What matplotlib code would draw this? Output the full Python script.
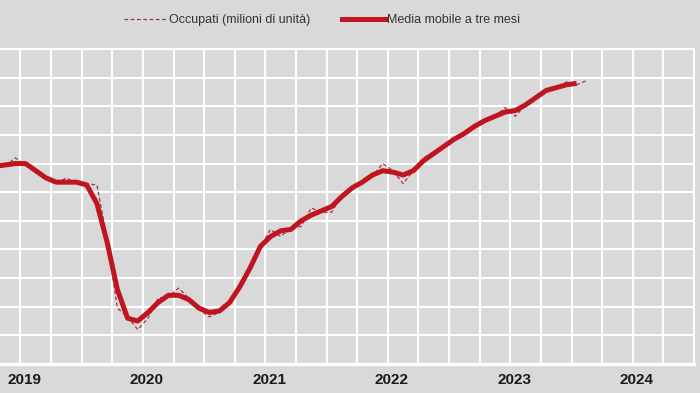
import numpy as np
import pandas as pd
import matplotlib
matplotlib.use('Agg')
import matplotlib.pyplot as plt
from matplotlib.lines import Line2D

# Monthly series, Apr 2019 - Feb 2024 (millions of employed)
months = pd.period_range('2019-04', '2024-02', freq='M')

occupati = [
    23.17, 23.18, 23.24, 23.19, 23.14, 23.09, 23.06, 23.10, 23.06,
    23.06, 23.05, 22.67, 22.19, 22.13, 22.04, 22.12, 22.26, 22.27, 22.33, 22.26, 22.18,
    22.13, 22.16, 22.23, 22.34, 22.47, 22.61, 22.74, 22.69, 22.75, 22.76, 22.89, 22.86,
    22.86, 22.98, 23.04, 23.06, 23.11, 23.20, 23.15, 23.06, 23.15, 23.24, 23.28, 23.32,
    23.37, 23.41, 23.46, 23.50, 23.53, 23.59, 23.53, 23.61, 23.67, 23.71, 23.73, 23.77,
    23.75, 23.78,
]

# 3-month moving average, Apr 2019 - Jan 2024
media_mobile = [
    23.18, 23.19, 23.20, 23.20, 23.15, 23.10, 23.07, 23.07, 23.07,
    23.05, 22.92, 22.65, 22.32, 22.12, 22.10, 22.16, 22.23, 22.28, 22.28, 22.25, 22.19,
    22.16, 22.17, 22.23, 22.34, 22.47, 22.62, 22.69, 22.73, 22.74, 22.80, 22.84, 22.87,
    22.90, 22.97, 23.03, 23.07, 23.12, 23.15, 23.14, 23.12, 23.15, 23.22, 23.27, 23.32,
    23.37, 23.41, 23.46, 23.50, 23.53, 23.56, 23.57, 23.61, 23.66, 23.71, 23.73, 23.75,
    23.76,
]

years = [2019, 2020, 2021, 2022, 2023, 2024]

BG = '#d9d9d9'
RED = '#c0141e'
DASH = '#a8303e'
FONT = ['Liberation Sans Narrow', 'Liberation Sans', 'DejaVu Sans']

# month position: months since Jan 2019, centred on mid-month
x = np.array([(p.year - 2019) * 12 + p.month - 1 + 0.5 for p in months])
x_ma = x[:len(media_mobile)]

fig = plt.figure(figsize=(7, 3.93), dpi=100, facecolor=BG)
ax = fig.add_axes([0.0, 1 - 364 / 393, 694 / 700, (364 - 49) / 393])
ax.set_facecolor(BG)

ax.plot(x, occupati, color=DASH, lw=0.9, ls=(0, (3, 2)), zorder=3)
ax.plot(x_ma, media_mobile, color=RED, lw=3.6, solid_capstyle='butt',
        solid_joinstyle='round', zorder=4)

ax.set_xlim(4, 72)
ax.set_ylim(21.8, 24.0)

# white grid: quarterly vertical lines, horizontal every 0.2
for q in np.arange(6, 72, 3):
    ax.axvline(q, color='white', lw=1.5, zorder=1)
for h in np.arange(21.8, 24.01, 0.2):
    ax.axhline(h, color='white', lw=1.5, zorder=1)

ax.set_xticks([])
ax.set_yticks([])
for side in ['top', 'right', 'bottom']:
    ax.spines[side].set_color('white')
    ax.spines[side].set_linewidth(1.5)
ax.spines['bottom'].set_linewidth(2.5)
ax.spines['left'].set_visible(False)

# year labels under the axis, centred on each year
for yr in years:
    ax.text((yr - 2019) * 12 + 6.4, -0.05, str(yr), transform=ax.get_xaxis_transform(),
            ha='center', va='center', fontsize=11, fontweight='bold',
            color='#1a1a1a', family=FONT)

handles = [
    Line2D([], [], color=DASH, lw=0.9, ls=(0, (3, 2))),
    Line2D([], [], color=RED, lw=3.6),
]
fig.legend(handles, ['Occupati (milioni di unità)', 'Media mobile a tre mesi'],
           loc='center', bbox_to_anchor=(0.46, 0.949), ncol=2, frameon=False,
           handlelength=3.4, handletextpad=0.15, columnspacing=2.6,
           prop={'family': FONT, 'size': 9}, labelcolor='#333333')

fig.savefig('out.png', dpi=100, facecolor=BG)
